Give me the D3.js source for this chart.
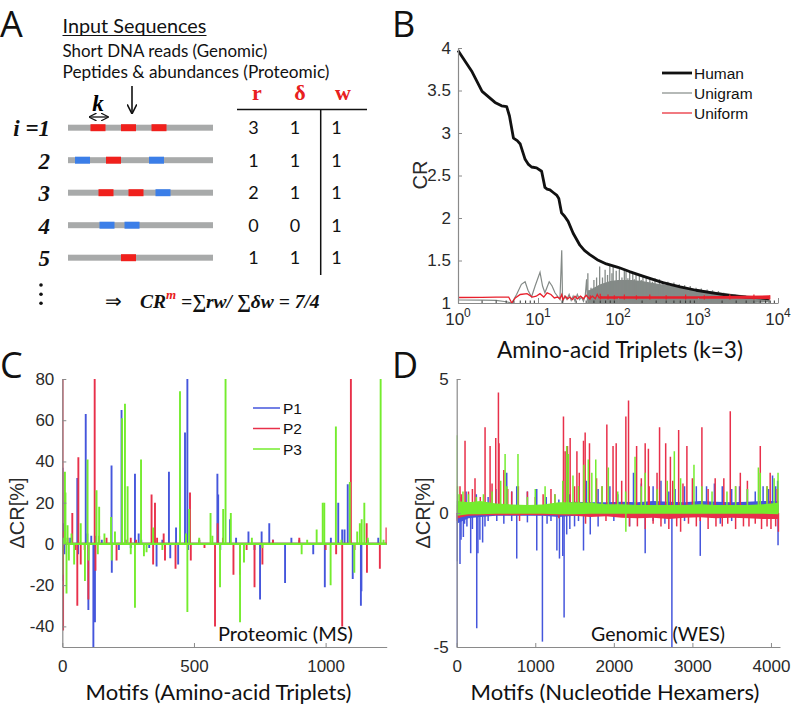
<!DOCTYPE html>
<html><head><meta charset="utf-8">
<script src="https://cdn.jsdelivr.net/npm/d3@7"></script>
<style>body{margin:0;background:#fff}</style>
</head><body>
<svg id="fig" width="793" height="705"></svg>
<script>
// ================= DATA =================
// Panel A
const readLabels = ["i =1", "2", "3", "4", "5"];
const readSegments = [
  [[4.5, "r"], [10.6, "r"], [16.7, "r"]],
  [[1.4, "b"], [7.6, "r"], [16.2, "b"]],
  [[6.1, "r"], [12.1, "r"], [17.5, "b"]],
  [[6.3, "b"], [11.3, "b"]],
  [[10.6, "r"]]
];
const tableCols = ["r", "δ", "w"];
const rVals = [3, 1, 2, 0, 1];
const deltaVals = [1, 1, 1, 0, 1];
const wVals = [1, 1, 1, 1, 1];

// Panel B
const humanRank = [1, 1.5, 2, 2.9, 3.5, 4.06, 4.4, 4.93, 5.5, 6.0, 6.9, 7.6, 8.3, 9.6, 11.1, 12.2, 13.0, 14.1, 15.5, 17.1, 18.2, 19.7, 21.5, 23.8, 27.5, 33.4, 38, 44.4, 55, 71.5, 100, 139, 200, 364, 600, 946, 1500, 2450, 4000, 6000, 7700];
const humanCR = [3.97, 3.72, 3.49, 3.36, 3.32, 3.31, 3.2, 2.94, 2.91, 2.87, 2.69, 2.63, 2.60, 2.59, 2.55, 2.36, 2.34, 2.33, 2.30, 2.27, 2.23, 2.06, 2.02, 1.96, 1.82, 1.68, 1.62, 1.57, 1.51, 1.46, 1.42, 1.37, 1.32, 1.24, 1.19, 1.15, 1.12, 1.09, 1.07, 1.06, 1.05];
const unigramRank = [1, 2, 3, 4, 4.7, 5.4, 6.2, 6.9, 7.5, 8.3, 9.2, 10.6, 11.4, 12.2, 13.8, 15, 16.3, 18.8, 19.8, 20.3, 21.5, 23, 24.5, 26, 27.5, 29, 31, 33, 35, 37, 39, 40.5, 41.5, 43, 45];
const unigramCR = [1.035, 1.033, 1.03, 1.015, 1.0, 1.1, 1.22, 1.25, 1.15, 1.07, 1.2, 1.36, 1.2, 1.12, 1.25, 1.2, 1.12, 1.04, 1.62, 1.0, 1.08, 1.04, 1.1, 1.03, 1.08, 1.02, 1.1, 1.04, 1.07, 1.02, 1.09, 1.28, 1.03, 1.15, 1.05];
const unigramBandRank = [42, 60, 80, 100, 150, 200, 300, 500, 800, 1200, 2000, 3000, 5000, 7900];
const unigramBandHi = [1.14, 1.22, 1.26, 1.27, 1.27, 1.26, 1.23, 1.2, 1.17, 1.15, 1.12, 1.1, 1.08, 1.07];
const unigramBandLo = [1.0, 1.0, 1.0, 1.0, 1.0, 1.0, 1.0, 1.0, 1.0, 1.0, 1.0, 1.0, 1.0, 1.01];
const unigramSpikeRank = [42, 46, 50, 54, 59, 64, 69, 74, 79, 84, 87, 95, 104, 112, 120, 126, 133, 140, 153, 160, 168, 185, 195, 205, 225, 250, 270, 290, 330, 364, 420, 460, 500, 583, 680, 800, 944, 1100, 1300, 1520, 1800, 2100, 2450, 2900, 3400, 3950, 4800, 5800, 7700];
const unigramSpikeCR = [1.35, 1.18, 1.27, 1.3, 1.43, 1.3, 1.39, 1.33, 1.46, 1.35, 1.44, 1.38, 1.42, 1.3, 1.4, 1.37, 1.29, 1.36, 1.35, 1.28, 1.34, 1.33, 1.27, 1.32, 1.31, 1.3, 1.25, 1.29, 1.28, 1.26, 1.25, 1.22, 1.24, 1.22, 1.21, 1.2, 1.18, 1.17, 1.16, 1.15, 1.14, 1.12, 1.11, 1.1, 1.09, 1.08, 1.07, 1.06, 1.06];
const uniformRank = [1, 2, 3, 4.3, 4.7, 5.2, 6.0, 7.3, 8.5, 9.5, 10.6, 11.8, 13, 14.5, 16, 17.5, 18.8, 19.8, 20.5, 22, 23.5, 25, 27, 29, 31, 34, 37, 40, 44, 48, 52, 55, 58, 62];
const uniformCR = [1.065, 1.067, 1.07, 1.07, 1.0, 1.06, 1.1, 1.11, 1.07, 1.08, 1.11, 1.07, 1.12, 1.1, 1.06, 1.07, 1.05, 1.1, 1.04, 1.08, 1.05, 1.07, 1.04, 1.08, 1.05, 1.08, 1.05, 1.09, 1.05, 1.08, 1.05, 1.1, 1.06, 1.08];
const uniformBandRank = [60, 200, 1000, 3000, 7900];
const uniformBandHi = [1.08, 1.08, 1.08, 1.085, 1.09];
const uniformBandLo = [1.05, 1.05, 1.05, 1.05, 1.045];
const uniformSpikeRank = [45, 60, 75, 90, 120, 170, 250, 400, 700, 1200, 2500, 5000, 7900];
const uniformSpikeCR = [1.09, 1.11, 1.1, 1.09, 1.1, 1.09, 1.1, 1.09, 1.1, 1.09, 1.1, 1.1, 1.09];
const bYTicks = [1, 1.5, 2, 2.5, 3, 3.5, 4];
const bXTicks = [1, 10, 100, 1000, 10000];
const bSeries = ["Human", "Unigram", "Uniform"];

// Panel C  (motif index, ΔCR %)
const cSeries = ["P1", "P2", "P3"];
const p1Motif = [1, 2, 4, 8, 30, 57, 60, 89, 95, 99, 110, 118, 124, 128, 150, 187, 188, 215, 225, 240, 260, 276, 290, 300, 330, 358, 380, 405, 410, 432, 440, 466, 475, 478, 520, 589, 592, 600, 637, 660, 707, 730, 751, 757, 786, 800, 846, 870, 900, 953, 997, 1020, 1048, 1063, 1072, 1084, 1103, 1134, 1136, 1160, 1200];
const p1Delta = [37, -18, 10, -5, 3, 32, -5, 63, 5, -32, 4, -50, -38, 4, 2, 38, -14, -3, 65, 2, -2, 34, 5, 2, -2, -11, 2, 35, -7, 8, -10, 54, 80, -3, 2, 34, 24, -3, 12, 3, 6, -3, -27, 6, 10, 2, -19, 3, 2, -5, -21, 3, 20, 7, 7, 29, -17, -30, -23, 2, 3];
const p2Motif = [1, 3, 5, 20, 38, 50, 57, 61, 70, 85, 99, 123, 126, 140, 168, 206, 240, 260, 280, 339, 345, 352, 360, 385, 390, 430, 485, 488, 520, 540, 580, 590, 610, 650, 675, 700, 730, 760, 800, 900, 1000, 1040, 1063, 1096, 1110, 1156, 1157, 1206, 1231];
const p2Delta = [80, -42, 6, 3, 15, -3, -30, 42, -10, -3, -27, 80, -13, 4, 3, -8, 2, 3, 2, 24, -10, 20, 3, 5, -8, -12, 25, -8, 2, -2, -40, 10, 3, -15, -15, -3, -21, -10, 2, 3, -3, -5, -40, 80, -3, 10, -14, -12, 8];
const p3Motif = [0, 3, 10, 12, 16, 20, 25, 35, 45, 70, 86, 96, 100, 130, 135, 140, 160, 185, 188, 200, 227, 238, 248, 260, 276, 299, 310, 320, 345, 380, 447, 470, 475, 482, 520, 563, 570, 599, 611, 620, 640, 675, 690, 720, 760, 909, 930, 966, 989, 995, 1019, 1039, 1060, 1092, 1109, 1120, 1130, 1137, 1147, 1160, 1209, 1220];
const p3Delta = [-15, 3, 35, 25, -24, 9, -8, 5, -10, 10, -18, 41, -8, 26, -5, 18, 5, 13, -8, 6, 61, 68, 28, -5, -31, 41, -6, -4, 8, -3, 74, 5, -33, 17, 3, 15, 4, -21, 17, 80, 15, -38, -9, 3, -2, -5, 2, 7, 20, 20, -20, 57, 2, 30, -14, 6, 10, 12, 20, 3, 80, 2];
const cYTicks = [-40, -20, 0, 20, 40, 60, 80];
const cXTicks = [0, 500, 1000];

// Panel D (hexamer index, ΔCR %)
const dP1Motif = [0, 5, 42, 55, 85, 130, 178, 255, 270, 295, 330, 360, 510, 764, 1019, 1091, 1275, 1308, 1350, 1367, 1400, 1440, 1614, 1700, 1800, 2399, 2739, 3100, 3355, 4090, 100, 200, 400, 600, 700, 900, 1150, 1200, 1500, 1550, 2000, 2200, 2500, 2650, 2900, 3500, 60, 120, 250, 400, 500, 637, 700, 764, 900, 1019, 1140, 1300, 1440, 1560, 1650, 1800, 1950, 2050, 2250, 2350, 2500, 2600, 2700, 2780, 2900, 3050, 3180, 3280, 3380, 3500, 3600, 3700, 3800, 3900, 3970, 4020, 4060, 4085];
const dP1Delta = [-5, -1.8, -1.9, -1.0, -0.9, -0.5, -1.5, -4.3, -1.5, -1.0, -1.1, -0.5, -0.3, -1.7, -1.4, -4.8, -1.4, -1.7, -1.6, -3.9, -0.8, -0.6, -1.4, -0.8, -0.5, -1.5, -5, -1.6, -0.4, -1.2, -0.4, -0.6, -0.3, -0.4, -0.3, -0.35, -0.4, -0.3, -0.5, -0.3, -0.3, -0.5, -0.3, -0.4, -0.3, -0.3, 0.6, 0.8, 0.7, 0.6, 0.9, 1.5, 0.8, 1.0, 0.8, 0.9, 0.6, 0.5, 0.7, 1.0, 1.2, 0.9, 1.0, 0.7, 1.5, 1.1, 1.0, 1.2, 0.8, 0.9, 1.0, 1.0, 1.0, 1.1, 1.0, 0.9, 1.0, 0.9, 0.8, 1.0, 0.9, 1.4, 1.0, 1.2];
const dP2Motif = [42, 106, 150, 233, 361, 425, 450, 497, 531, 539, 600, 650, 785, 900, 1100, 1359, 1380, 1410, 1444, 1530, 1614, 1635, 1690, 1780, 1911, 1990, 2030, 2153, 2187, 2290, 2399, 2440, 2582, 2660, 2720, 2825, 2930, 3121, 3290, 3482, 3610, 3864, 3990, 60, 200, 300, 700, 1000, 1200, 1250, 1500, 1560, 1850, 2100, 2350, 2450, 2550, 2750, 2880, 3000, 3200, 3400, 3550, 3700, 3950, 4080, 0, 30, 800, 1300, 1640, 1900, 2200, 2300, 2400, 2500, 2600, 2700, 2800, 2850, 2950, 3050, 3100, 3200, 3300, 3380, 3450, 3550, 3650, 3720, 3800, 3880, 3950, 4000, 4060, 4095];
const dP2Delta = [1.0, 2.7, 0.8, 1.3, 3.2, 2.5, 1.1, 2.8, 4.5, 2.6, 1.6, 0.9, 1.0, 0.8, 0.7, 3.6, 2.3, 2.5, 2.8, 2.3, 2.7, 3.0, 2.6, 1.3, 3.3, 2.5, 2.6, 3.6, 4.2, 2.5, 2.6, 2.4, 3.2, 2.6, 2.1, 3.1, 2.5, 3.2, 1.3, 3.8, 1.5, 2.5, 1.5, 0.7, 0.9, 0.6, 0.8, 0.6, 0.9, 0.7, 1.0, 1.5, 1.0, 1.2, 1.3, 1.0, 1.5, 1.2, 1.1, 1.3, 0.9, 1.3, 1.0, 1.2, 1.0, 0.9, -0.3, -0.2, -0.3, -0.2, -0.4, -0.3, -0.5, -0.5, -0.6, -0.4, -0.5, -0.6, -0.5, -0.7, -0.4, -0.5, -0.3, -0.6, -0.5, -0.5, -0.4, -0.6, -0.5, -0.5, -0.4, -0.6, -0.5, -0.6, -0.5, -0.7];
const dP3Motif = [0, 10, 30, 80, 150, 250, 340, 450, 560, 616, 640, 780, 900, 1000, 1125, 1250, 1350, 1400, 1420, 1480, 1550, 1620, 1675, 1720, 1770, 1850, 1930, 2050, 2150, 2153, 2270, 2350, 2400, 2550, 2680, 2770, 2850, 3020, 3121, 3250, 3440, 3550, 3700, 3840, 3864, 3950, 4040, 4090];
const dP3Delta = [2.9, 1.0, 0.7, 0.8, 0.7, 0.6, 0.7, 0.8, 1.2, 2.2, 1.0, 2.2, 0.6, 0.9, 1.0, 0.7, 1.2, 2.5, 2.2, 1.4, 1.0, 1.8, 2.0, 1.5, 2.0, 1.0, 1.7, 0.8, 0.8, -0.7, 2.1, 1.0, 1.5, 0.9, 1.2, 2.3, 1.3, 1.8, 1.0, 0.8, 0.8, 1.0, 0.9, 1.7, 1.5, 1.0, 1.3, 1.5];
const dBandMotif = [0, 150, 300, 500, 700, 900, 1100, 1300, 1500, 1700, 1900, 2100, 2300, 2500, 2700, 2900, 3100, 3300, 3500, 3700, 3900, 4095];
const dP1BandHi = [0.45, 0.3, 0.35, 0.3, 0.3, 0.3, 0.3, 0.35, 0.42, 0.4, 0.4, 0.42, 0.4, 0.45, 0.42, 0.4, 0.45, 0.42, 0.4, 0.42, 0.45, 0.45];
const dP1BandLo = [-0.4, -0.2, -0.15, -0.1, -0.1, -0.1, -0.1, -0.15, -0.1, -0.05, -0.05, -0.05, -0.05, -0.05, -0.05, -0.05, -0.05, -0.05, -0.05, -0.05, -0.05, -0.1];
const dP2BandHi = [0.3, 0.25, 0.3, 0.25, 0.2, 0.2, 0.2, 0.25, 0.3, 0.3, 0.3, 0.3, 0.3, 0.3, 0.3, 0.3, 0.3, 0.3, 0.3, 0.3, 0.3, 0.3];
const dP2BandLo = [-0.2, -0.1, -0.08, -0.08, -0.08, -0.07, -0.08, -0.08, -0.1, -0.15, -0.12, -0.18, -0.2, -0.18, -0.22, -0.18, -0.16, -0.2, -0.18, -0.2, -0.22, -0.22];
const dP3BandHi = [0.45, 0.4, 0.45, 0.35, 0.32, 0.3, 0.32, 0.4, 0.4, 0.38, 0.33, 0.33, 0.3, 0.3, 0.3, 0.3, 0.33, 0.3, 0.3, 0.3, 0.33, 0.38];
const dP3BandLo = [-0.1, -0.05, -0.05, -0.03, -0.03, -0.03, -0.03, -0.05, -0.05, -0.03, -0.03, -0.03, -0.03, -0.03, -0.03, -0.03, -0.03, -0.03, -0.03, -0.03, -0.03, -0.05];
const dYTicks = [-5, 0, 5];
const dXTicks = [0, 1000, 2000, 3000, 4000];

// ================= STYLE =================
const CAL = "Lato, 'Open Sans', sans-serif";
const ARIAL = "'Liberation Sans', Arial, sans-serif";
const SERIF = "'Liberation Serif', 'Times New Roman', serif";
const COL = {P1: "#4556dc", P2: "#e8304a", P3: "#74ec2e", human: "#111", unigram: "#848a87", uniform: "#e8202c",
  segR: "#f0201c", segB: "#3b7ee8", seg: "#a8aaaa", axis: "#8a8a8a", tick: "#2a2a2a"};

const svg = d3.select("#fig");
const defs = svg.append("defs");
function zip(a, b) { return a.map((v, i) => [v, b[i]]); }
// scale a text's font so that it spans the given width (reference text widths)
function fitWidth(sel, w) {
  const cur = sel.node().getComputedTextLength();
  const fs = parseFloat(sel.style("font-size"));
  if (cur > 0) sel.style("font-size", (fs * w / cur).toFixed(2) + "px");
  return sel;
}
function label(parent, x, y, s, size, anchor) {
  return parent.append("text").attr("x", x).attr("y", y).attr("text-anchor", anchor || "start").text(s)
    .style("font-family", CAL).style("font-size", size + "px").attr("fill", "#111");
}

// panel letters
[["A", 0, 37], ["B", 392, 37], ["C", 0, 378], ["D", 392, 378]].forEach(([t, x, y]) =>
  svg.append("text").attr("x", x).attr("y", y).text(t)
    .style("font-family", "'Open Sans', sans-serif").style("font-size", "36px").attr("fill", "#111"));

// ================= PANEL A =================
(function () {
  const g = svg.append("g");
  fitWidth(label(g, 62.5, 33.3, "Input Sequences", 20), 144);
  g.append("line").attr("x1", 62.5).attr("x2", 206.5).attr("y1", 35.5).attr("y2", 35.5).attr("stroke", "#111").attr("stroke-width", 1.2);
  fitWidth(label(g, 62.5, 56.7, "Short DNA reads (Genomic)", 17), 205);
  fitWidth(label(g, 62.5, 78.3, "Peptides & abundances (Proteomic)", 17), 267);

  const sx = d3.scaleLinear().domain([0, 29]).range([68, 213]);
  const ry = d3.scaleLinear().domain([0, 4]).range([127.7, 257.7]);
  const k = 3;
  readSegments.forEach((segs, i) => {
    g.append("rect").attr("x", sx(0)).attr("y", ry(i) - 3).attr("width", sx(29) - sx(0)).attr("height", 6).attr("fill", COL.seg);
    segs.forEach(([s, c]) => g.append("rect").attr("x", sx(s)).attr("y", ry(i) - 3.5)
      .attr("width", sx(s + k) - sx(s)).attr("height", 7).attr("fill", c === "r" ? COL.segR : COL.segB));
    g.append("text").attr("x", 50).attr("y", ry(i) + 8.5).attr("text-anchor", "end").text(readLabels[i])
      .style("font-family", SERIF).style("font-size", "23px").style("font-weight", "bold").style("font-style", "italic").attr("fill", "#111");
  });
  [285, 294.3, 303.3].forEach(y => g.append("circle").attr("cx", 41).attr("cy", y).attr("r", 1.8).attr("fill", "#111"));
  g.append("text").attr("x", 98).attr("y", 111).attr("text-anchor", "middle").text("k")
    .style("font-family", SERIF).style("font-size", "23px").style("font-weight", "bold").style("font-style", "italic");
  defs.append("marker").attr("id", "ah").attr("viewBox", "0 0 10 10").attr("refX", 9).attr("refY", 5)
    .attr("markerWidth", 6).attr("markerHeight", 6).attr("orient", "auto-start-reverse")
    .append("path").attr("d", "M0,0 L10,5 L0,10").attr("fill", "none").attr("stroke", "#111").attr("stroke-width", 1.6);
  g.append("line").attr("x1", sx(4.3)).attr("x2", sx(8.0)).attr("y1", 117).attr("y2", 117)
    .attr("stroke", "#111").attr("stroke-width", 1.3).attr("marker-start", "url(#ah)").attr("marker-end", "url(#ah)");
  g.append("line").attr("x1", 132).attr("x2", 132).attr("y1", 86).attr("y2", 113)
    .attr("stroke", "#111").attr("stroke-width", 1.6).attr("marker-end", "url(#ah)");

  // table
  const hx = d3.scalePoint().domain(tableCols).range([257, 343]);
  const vx = d3.scalePoint().domain(tableCols).range([253.5, 336.5]);
  tableCols.forEach(c => g.append("text").attr("x", hx(c)).attr("y", 100).attr("text-anchor", "middle").text(c)
    .style("font-family", SERIF).style("font-size", "22px").style("font-weight", "bold").attr("fill", "#e82020"));
  g.append("line").attr("x1", 237).attr("x2", 367).attr("y1", 109.5).attr("y2", 109.5).attr("stroke", "#111").attr("stroke-width", 1.5);
  g.append("line").attr("x1", 320.7).attr("x2", 320.7).attr("y1", 109.5).attr("y2", 275).attr("stroke", "#111").attr("stroke-width", 1.5);
  [rVals, deltaVals, wVals].forEach((vals, ci) => vals.forEach((v, i) =>
    g.append("text").attr("x", vx(tableCols[ci])).attr("y", ry(i) + 6.3).attr("text-anchor", "middle").text(v)
      .style("font-family", CAL).style("font-size", "18px").attr("fill", "#111")));

  // formula
  const f = g.append("text").attr("x", 105).attr("y", 308)
    .style("font-family", SERIF).style("font-size", "19.5px").style("font-weight", "bold").style("font-style", "italic").attr("fill", "#111");
  f.append("tspan").text("⇒").style("font-style", "normal").style("font-weight", "normal");
  f.append("tspan").attr("x", 140).text("CR");
  f.append("tspan").attr("dy", -9).style("font-size", "13px").attr("fill", "#e82020").text("m");
  f.append("tspan").attr("dy", 9).text(" =∑rw/ ∑δw = 7/4");
})();

function styleAxis(sel, fontSize) {
  sel.selectAll("path").attr("stroke", COL.axis).attr("stroke-width", 1.2);
  sel.selectAll("line").attr("stroke", COL.axis).attr("stroke-width", 1);
  sel.selectAll("text").style("font-family", ARIAL).style("font-size", fontSize + "px").attr("fill", COL.tick);
}

// ================= PANEL B =================
(function () {
  const g = svg.append("g");
  const x = d3.scaleLog().domain([1, 1e4]).range([458, 778]);
  const y = d3.scaleLinear().domain([1, 4]).range([303, 48]);
  const line = d3.line().x(d => x(d[0])).y(d => y(d[1]));
  const area = d3.area().x(d => x(d[0])).y0(d => y(d[1])).y1(d => y(d[2]));

  g.append("path").datum(unigramBandRank.map((r, i) => [r, unigramBandLo[i], unigramBandHi[i]]))
    .attr("d", area).attr("fill", COL.unigram);
  g.append("path").datum(zip(unigramRank, unigramCR)).attr("d", line).attr("fill", "none").attr("stroke", COL.unigram).attr("stroke-width", 1.2);
  g.selectAll(".us").data(zip(unigramSpikeRank, unigramSpikeCR)).join("line")
    .attr("x1", d => x(d[0])).attr("x2", d => x(d[0])).attr("y1", y(1.0)).attr("y2", d => y(d[1]))
    .attr("stroke", COL.unigram).attr("stroke-width", 1.3);
  g.append("path").datum(zip(humanRank, humanCR)).attr("d", line).attr("fill", "none").attr("stroke", COL.human).attr("stroke-width", 2.8).attr("stroke-linejoin", "round");
  g.append("path").datum(uniformBandRank.map((r, i) => [r, uniformBandLo[i], uniformBandHi[i]]))
    .attr("d", area).attr("fill", COL.uniform);
  g.append("path").datum(zip(uniformRank, uniformCR)).attr("d", line).attr("fill", "none").attr("stroke", COL.uniform).attr("stroke-width", 1.3);
  g.selectAll(".fs").data(zip(uniformSpikeRank, uniformSpikeCR)).join("line")
    .attr("x1", d => x(d[0])).attr("x2", d => x(d[0])).attr("y1", y(1.04)).attr("y2", d => y(d[1]))
    .attr("stroke", COL.uniform).attr("stroke-width", 1.2);

  const ay = g.append("g").attr("transform", `translate(${x(1)},0)`)
    .call(d3.axisLeft(y).tickValues(bYTicks).tickSize(-4).tickSizeOuter(0).tickPadding(7).tickFormat(d => String(d)));
  styleAxis(ay, 17);
  const ax = g.append("g").attr("transform", `translate(0,${y(1)})`)
    .call(d3.axisBottom(x).tickValues(bXTicks).tickSize(-5).tickSizeOuter(0).tickFormat(""));
  styleAxis(ax, 17);
  const minor = [];
  [1, 10, 100, 1000].forEach(d => [2, 3, 4, 5, 6, 7, 8, 9].forEach(m => minor.push(d * m)));
  g.selectAll(".mt").data(minor).join("line").attr("x1", d => x(d)).attr("x2", d => x(d))
    .attr("y1", y(1)).attr("y2", y(1) - 2.5).attr("stroke", "#333").attr("stroke-width", 1);
  bXTicks.forEach(t => {
    const tx = g.append("text").attr("x", x(t)).attr("y", 325).attr("text-anchor", "middle")
      .style("font-family", ARIAL).style("font-size", "17px").attr("fill", COL.tick);
    tx.append("tspan").text("10");
    tx.append("tspan").attr("dy", -8).style("font-size", "12px").text(String(Math.round(Math.log10(t))));
  });
  g.append("text").attr("transform", "translate(427,175) rotate(-90)").attr("text-anchor", "middle").text("CR")
    .style("font-family", ARIAL).style("font-size", "20px").attr("fill", COL.tick);
  fitWidth(label(g, 620, 358, "Amino-acid Triplets (k=3)", 20, "middle"), 246);
  const lc = [COL.human, COL.unigram, COL.uniform], lw = [2.8, 1.2, 1.2];
  bSeries.forEach((s, i) => {
    const ly = 73 + i * 20;
    g.append("line").attr("x1", 662).attr("x2", 692).attr("y1", ly).attr("y2", ly).attr("stroke", lc[i]).attr("stroke-width", lw[i]);
    g.append("text").attr("x", 694).attr("y", ly + 5.5).text(s).style("font-family", ARIAL).style("font-size", "15.5px").attr("fill", "#111");
  });
})();

// ================= PANEL C =================
(function () {
  const g = svg.append("g");
  const x = d3.scaleLinear().domain([0, 1232]).range([62.3, 386.7]);
  const y = d3.scaleLinear().domain([-50, 80]).range([647, 379]);
  defs.append("clipPath").attr("id", "clipC").append("rect")
    .attr("x", 62.3).attr("y", 379).attr("width", 324.4).attr("height", 268);
  const plot = g.append("g").attr("clip-path", "url(#clipC)");
  const series = [[p1Motif, p1Delta, COL.P1], [p2Motif, p2Delta, COL.P2], [p3Motif, p3Delta, COL.P3]];
  series.forEach(([m, v, c]) => {
    plot.append("line").attr("x1", x(0)).attr("x2", x(1232)).attr("y1", y(0)).attr("y2", y(0)).attr("stroke", c).attr("stroke-width", 2.2);
    plot.selectAll(null).data(zip(m, v)).join("line")
      .attr("x1", d => x(d[0])).attr("x2", d => x(d[0])).attr("y1", y(0)).attr("y2", d => y(d[1]))
      .attr("stroke", c).attr("stroke-width", 1.9);
  });
  const ay = g.append("g").attr("transform", `translate(${x(0)},0)`)
    .call(d3.axisLeft(y).tickValues(cYTicks).tickSize(-4).tickSizeOuter(0).tickPadding(8).tickFormat(d => String(d)));
  styleAxis(ay, 17);
  const ax = g.append("g").attr("transform", `translate(0,${y(-50)})`)
    .call(d3.axisBottom(x).tickValues(cXTicks).tickSize(-4).tickSizeOuter(0).tickPadding(13).tickFormat(d => String(d)));
  styleAxis(ax, 17);
  g.append("text").attr("transform", "translate(24,513) rotate(-90)").attr("text-anchor", "middle").text("ΔCR[%]")
    .style("font-family", ARIAL).style("font-size", "20px").attr("fill", COL.tick);
  fitWidth(label(g, 218.5, 699.5, "Motifs (Amino-acid Triplets)", 20, "middle"), 266);
  fitWidth(label(g, 218, 641, "Proteomic (MS)", 17), 135);
  cSeries.forEach((s, i) => {
    const ly = 408 + i * 20.5;
    g.append("line").attr("x1", 253).attr("x2", 280).attr("y1", ly).attr("y2", ly).attr("stroke", [COL.P1, COL.P2, COL.P3][i]).attr("stroke-width", 1.5);
    g.append("text").attr("x", 283).attr("y", ly + 5.5).text(s).style("font-family", ARIAL).style("font-size", "15.5px").attr("fill", "#111");
  });
})();

// ================= PANEL D =================
(function () {
  const g = svg.append("g");
  const x = d3.scaleLinear().domain([0, 4115]).range([456.7, 780]);
  const y = d3.scaleLinear().domain([-5, 5]).range([647, 379]);
  defs.append("clipPath").attr("id", "clipD").append("rect")
    .attr("x", 456.7).attr("y", 379).attr("width", 323.3).attr("height", 268);
  const plot = g.append("g").attr("clip-path", "url(#clipD)");
  const area = d3.area().x(d => x(d[0])).y0(d => y(d[1])).y1(d => y(d[2]));
  const series = [
    [dP1Motif, dP1Delta, dP1BandLo, dP1BandHi, COL.P1],
    [dP2Motif, dP2Delta, dP2BandLo, dP2BandHi, COL.P2],
    [dP3Motif, dP3Delta, dP3BandLo, dP3BandHi, COL.P3]];
  series.forEach(([m, v, lo, hi, c]) => {
    plot.append("path").datum(dBandMotif.map((mm, i) => [mm, lo[i], hi[i]])).attr("d", area).attr("fill", c);
    plot.selectAll(null).data(zip(m, v)).join("line")
      .attr("x1", d => x(d[0])).attr("x2", d => x(d[0])).attr("y1", y(0)).attr("y2", d => y(d[1]))
      .attr("stroke", c).attr("stroke-width", 1.5);
  });
  const ay = g.append("g").attr("transform", `translate(${x(0)},0)`)
    .call(d3.axisLeft(y).tickValues(dYTicks).tickSize(-4).tickSizeOuter(0).tickPadding(8).tickFormat(d => String(d)));
  styleAxis(ay, 17);
  const ax = g.append("g").attr("transform", `translate(0,${y(-5)})`)
    .call(d3.axisBottom(x).tickValues(dXTicks).tickSize(-4).tickSizeOuter(0).tickPadding(13).tickFormat(d => String(d)));
  styleAxis(ax, 17);
  g.append("text").attr("transform", "translate(430,513) rotate(-90)").attr("text-anchor", "middle").text("ΔCR[%]")
    .style("font-family", ARIAL).style("font-size", "20px").attr("fill", COL.tick);
  fitWidth(label(g, 615, 699.5, "Motifs (Nucleotide Hexamers)", 20, "middle"), 289);
  fitWidth(label(g, 591, 641, "Genomic (WES)", 17), 134);
})();
</script>
</body></html>
